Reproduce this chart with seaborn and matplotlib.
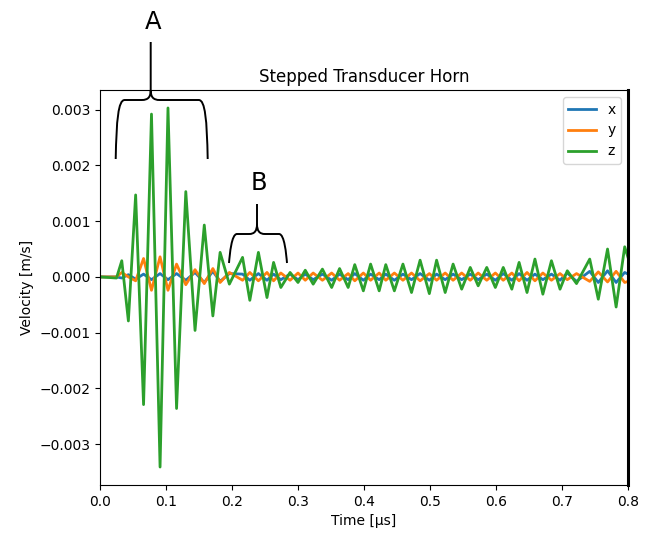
import matplotlib
matplotlib.use("Agg")
import matplotlib.pyplot as plt
import seaborn as sns
import pandas as pd
from matplotlib.path import Path
from matplotlib.patches import PathPatch
from matplotlib.transforms import Affine2D

# time of each turning point of the signal, in microseconds
t_us = [0.000, 0.025, 0.033, 0.043, 0.054, 0.066, 0.078, 0.091, 0.103, 0.116,
        0.130, 0.144, 0.158, 0.171, 0.182, 0.196, 0.216, 0.227, 0.240, 0.253,
        0.263, 0.274, 0.288, 0.300, 0.311, 0.323, 0.337, 0.351, 0.363, 0.376,
        0.386, 0.399, 0.410, 0.423, 0.433, 0.446, 0.459, 0.472, 0.485, 0.499,
        0.510, 0.523, 0.535, 0.548, 0.561, 0.573, 0.586, 0.599, 0.611, 0.624,
        0.635, 0.647, 0.659, 0.671, 0.684, 0.697, 0.708, 0.722, 0.742, 0.755,
        0.769, 0.782, 0.795, 0.800]

vel_x = [0, 0, -0.00002, 0.00004, -0.00004, 0.00005, -0.00005, 0.00006, -0.00005, 0.00006,
         -0.00006, 0.00008, -0.00010, 0.00010, -0.00008, 0.00006, 0.00005, -0.00006, 0.00006, -0.00006,
         0.00005, -0.00005, 0.00005, -0.00005, 0.00005, -0.00005, 0.00005, -0.00006, 0.00005, -0.00005,
         0.00006, -0.00006, 0.00005, -0.00005, 0.00005, -0.00006, 0.00005, -0.00005, 0.00006, -0.00006,
         0.00005, -0.00005, 0.00005, -0.00005, 0.00005, -0.00005, 0.00005, -0.00006, 0.00006, -0.00006,
         0.00006, -0.00006, 0.00005, -0.00005, 0.00005, -0.00006, 0.00007, -0.00008, 0.00010, -0.00010,
         0.00011, -0.00010, 0.00008, 0.00005]

vel_y = [0, 0, 0.00008, 0.00000, -0.00007, 0.00033, -0.00024, 0.00036, -0.00024, 0.00023,
         -0.00014, 0.00013, -0.00012, 0.00015, -0.00010, 0.00008, -0.00006, 0.00008, -0.00007, 0.00008,
         -0.00007, 0.00007, -0.00006, 0.00007, -0.00006, 0.00007, -0.00006, 0.00007, -0.00006, 0.00006,
         -0.00007, 0.00007, -0.00006, 0.00007, -0.00006, 0.00007, -0.00006, 0.00007, -0.00007, 0.00006,
         -0.00006, 0.00007, -0.00006, 0.00007, -0.00006, 0.00007, -0.00006, 0.00007, -0.00006, 0.00007,
         -0.00007, 0.00008, -0.00007, 0.00007, -0.00006, 0.00006, -0.00005, 0.00006, -0.00008, 0.00009,
         -0.00009, 0.00010, -0.00010, -0.00008]

vel_z = [0, -0.00002, 0.00029, -0.00079, 0.00147, -0.00229, 0.00292, -0.00341, 0.00303, -0.00236,
         0.00153, -0.00096, 0.00093, -0.00070, 0.00044, -0.00013, 0.00035, -0.00042, 0.00044, -0.00037,
         0.00026, -0.00019, 0.00008, -0.00010, 0.00012, -0.00013, 0.00014, -0.00019, 0.00015, -0.00019,
         0.00022, -0.00025, 0.00023, -0.00025, 0.00022, -0.00025, 0.00023, -0.00028, 0.00030, -0.00030,
         0.00030, -0.00028, 0.00023, -0.00022, 0.00017, -0.00016, 0.00017, -0.00019, 0.00017, -0.00022,
         0.00026, -0.00028, 0.00032, -0.00031, 0.00029, -0.00022, 0.00011, -0.00012, 0.00032, -0.00040,
         0.00050, -0.00054, 0.00054, 0.00035]

components = ["x", "y", "z"]
colors = ["#1f77b4", "#ff7f0e", "#2ca02c"]


def brace(x0, x1, xm, yb, yh, yt, r=9):
    """Curly brace in reference-pixel coordinates (y grows downward)."""
    verts = [(x0, yb), (x0 + 0.8, yh + 20), (x0 + 2.5, yh), (x0 + r, yh),
             (xm - r, yh),
             (xm - 2.5, yh), (xm, yh - 3), (xm, yh - 10),
             (xm, yt),
             (xm, yh - 10), (xm, yh - 3), (xm + 2.5, yh), (xm + r, yh),
             (x1 - r, yh),
             (x1 - 2.5, yh), (x1 - 0.8, yh + 20), (x1, yb)]
    codes = [Path.MOVETO, Path.CURVE4, Path.CURVE4, Path.CURVE4,
             Path.LINETO,
             Path.CURVE4, Path.CURVE4, Path.CURVE4,
             Path.LINETO,
             Path.MOVETO, Path.CURVE4, Path.CURVE4, Path.CURVE4,
             Path.LINETO,
             Path.CURVE4, Path.CURVE4, Path.CURVE4]
    return Path(verts, codes)


df = pd.DataFrame({
    "time": t_us * 3,
    "velocity": vel_x + vel_y + vel_z,
    "axis": [c for c in components for _ in t_us],
})

fig = plt.figure(figsize=(6.53, 5.33), dpi=100)
ax = fig.add_axes([100 / 653, 1 - 485 / 533, 528 / 653, 395 / 533])

sns.lineplot(data=df, x="time", y="velocity", hue="axis", hue_order=components,
             palette=colors, linewidth=2, estimator=None, sort=False, ax=ax)

ax.set_xlim(0, 0.8)
ax.set_title("Stepped Transducer Horn", fontsize=12)
ax.set_xlabel("Time [\u00b5s]")
ax.set_ylabel("Velocity [m/s]")
ax.spines["right"].set_linewidth(2.2)
sns.move_legend(ax, "upper right", title=None)

# annotations drawn in reference pixel space
px = Affine2D().scale(1 / 653, -1 / 533).translate(0, 1) + fig.transFigure
for path in [brace(115.7, 207.7, 150.7, 159, 100, 42),
             brace(229, 287, 257, 263, 234, 204, r=8)]:
    fig.add_artist(PathPatch(path, fill=False, lw=1.4, color="black",
                             transform=px, clip_on=False))
fig.text(152.8, 29.3, "A", transform=px, fontsize=17.5, ha="center", va="baseline")
fig.text(258.7, 190, "B", transform=px, fontsize=17.5, ha="center", va="baseline")

fig.savefig("out.png", dpi=100)
